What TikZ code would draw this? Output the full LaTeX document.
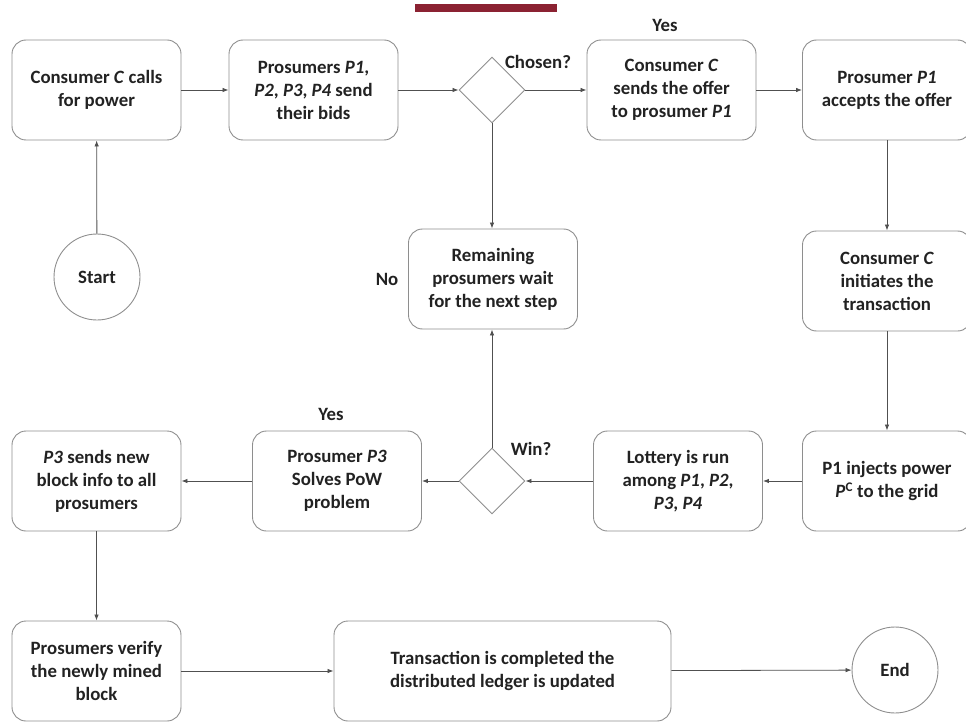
\documentclass[tikz,border=0pt]{standalone}
\usepackage{fontspec}
\setmainfont{Carlito}
\usetikzlibrary{arrows.meta,shapes.geometric}
\definecolor{boxline}{HTML}{8E8E8E}
\definecolor{arrline}{HTML}{505050}
\definecolor{txt}{HTML}{222222}
\definecolor{barred}{HTML}{8B2232}
\newcommand{\diagfont}{\fontsize{18.8}{23}\selectfont\bfseries}
\begin{document}
\begin{tikzpicture}[x=1pt,y=-1pt,
  stepbox/.style={draw=boxline, line width=0.9pt, rounded corners=14pt, minimum width=169pt, minimum height=100pt, align=center, text=txt, font=\diagfont, inner sep=2pt},
  decision/.style={diamond, draw=boxline, line width=0.9pt, minimum width=66pt, minimum height=66pt, inner sep=0pt, aspect=1},
  terminal/.style={circle, draw=boxline, line width=0.9pt, minimum size=86pt, inner sep=0pt, text=txt, font=\diagfont},
  lbl/.style={text=txt, font=\diagfont, inner sep=1pt},
  flow/.style={draw=arrline, line width=0.8pt, -{Latex[length=6pt,width=4.5pt]}}]
\useasboundingbox (0,0) rectangle (966,722);
\fill[barred] (415,4) rectangle (557,12);
\node[stepbox] (call) at (96.5,90) {Consumer \textit{C} calls\\for power};
\node[stepbox] (bids) at (313.5,90) {Prosumers \textit{P1},\\\textit{P2}, \textit{P3}, \textit{P4} send\\their bids};
\node[decision] (chosen) at (492,90) {};
\node[stepbox] (offer) at (671.5,90) {Consumer \textit{C}\\sends the offer\\to prosumer \textit{P1}};
\node[stepbox] (accept) at (887,90) {Prosumer \textit{P1}\\accepts the offer};
\node[terminal] (start) at (97,277) {Start};
\node[stepbox] (remain) at (493,279) {Remaining\\prosumers wait\\for the next step};
\node[stepbox] (init) at (887,281) {Consumer \textit{C}\\initiates the\\transaction};
\node[stepbox] (inject) at (887,481) {P1 injects power\\\textit{P}\textsuperscript{C} to the grid};
\node[stepbox] (lottery) at (678,481) {Lottery is run\\among \textit{P1}, \textit{P2},\\\textit{P3}, \textit{P4}};
\node[decision] (win) at (492,481) {};
\node[stepbox] (solve) at (337,481) {Prosumer \textit{P3}\\Solves PoW\\problem};
\node[stepbox] (sendblk) at (96.5,481) {\textit{P3} sends new\\block info to all\\prosumers};
\node[stepbox] (verify) at (96.5,671) {Prosumers verify\\the newly mined\\block};
\node[stepbox, minimum width=337pt] (done) at (502.5,671) {Transaction is completed the\\distributed ledger is updated};
\node[terminal] (end) at (895,670) {End};
\node[lbl] (yes1) at (665,25) {Yes};
\node[lbl] (chosenlbl) at (538,62) {Chosen?};
\node[lbl] (no) at (387,279) {No};
\node[lbl] (winlbl) at (531,449) {Win?};
\node[lbl] (yes2) at (331,414) {Yes};
\draw[flow] (call) -- (bids);
\draw[flow] (bids) -- (chosen);
\draw[flow] (chosen) -- (offer);
\draw[flow] (offer) -- (accept);
\draw[flow] (start) -- (call);
\draw[flow] (chosen.south) -- (chosen.south |- remain.north);
\draw[flow] (accept) -- (init);
\draw[flow] (init) -- (inject);
\draw[flow] (inject) -- (lottery);
\draw[flow] (lottery) -- (win);
\draw[flow] (win.north) -- (win.north |- remain.south);
\draw[flow] (win) -- (solve);
\draw[flow] (solve) -- (sendblk);
\draw[flow] (sendblk) -- (verify);
\draw[flow] (verify) -- (done);
\draw[flow] (done) -- (end);
\end{tikzpicture}
\end{document}
